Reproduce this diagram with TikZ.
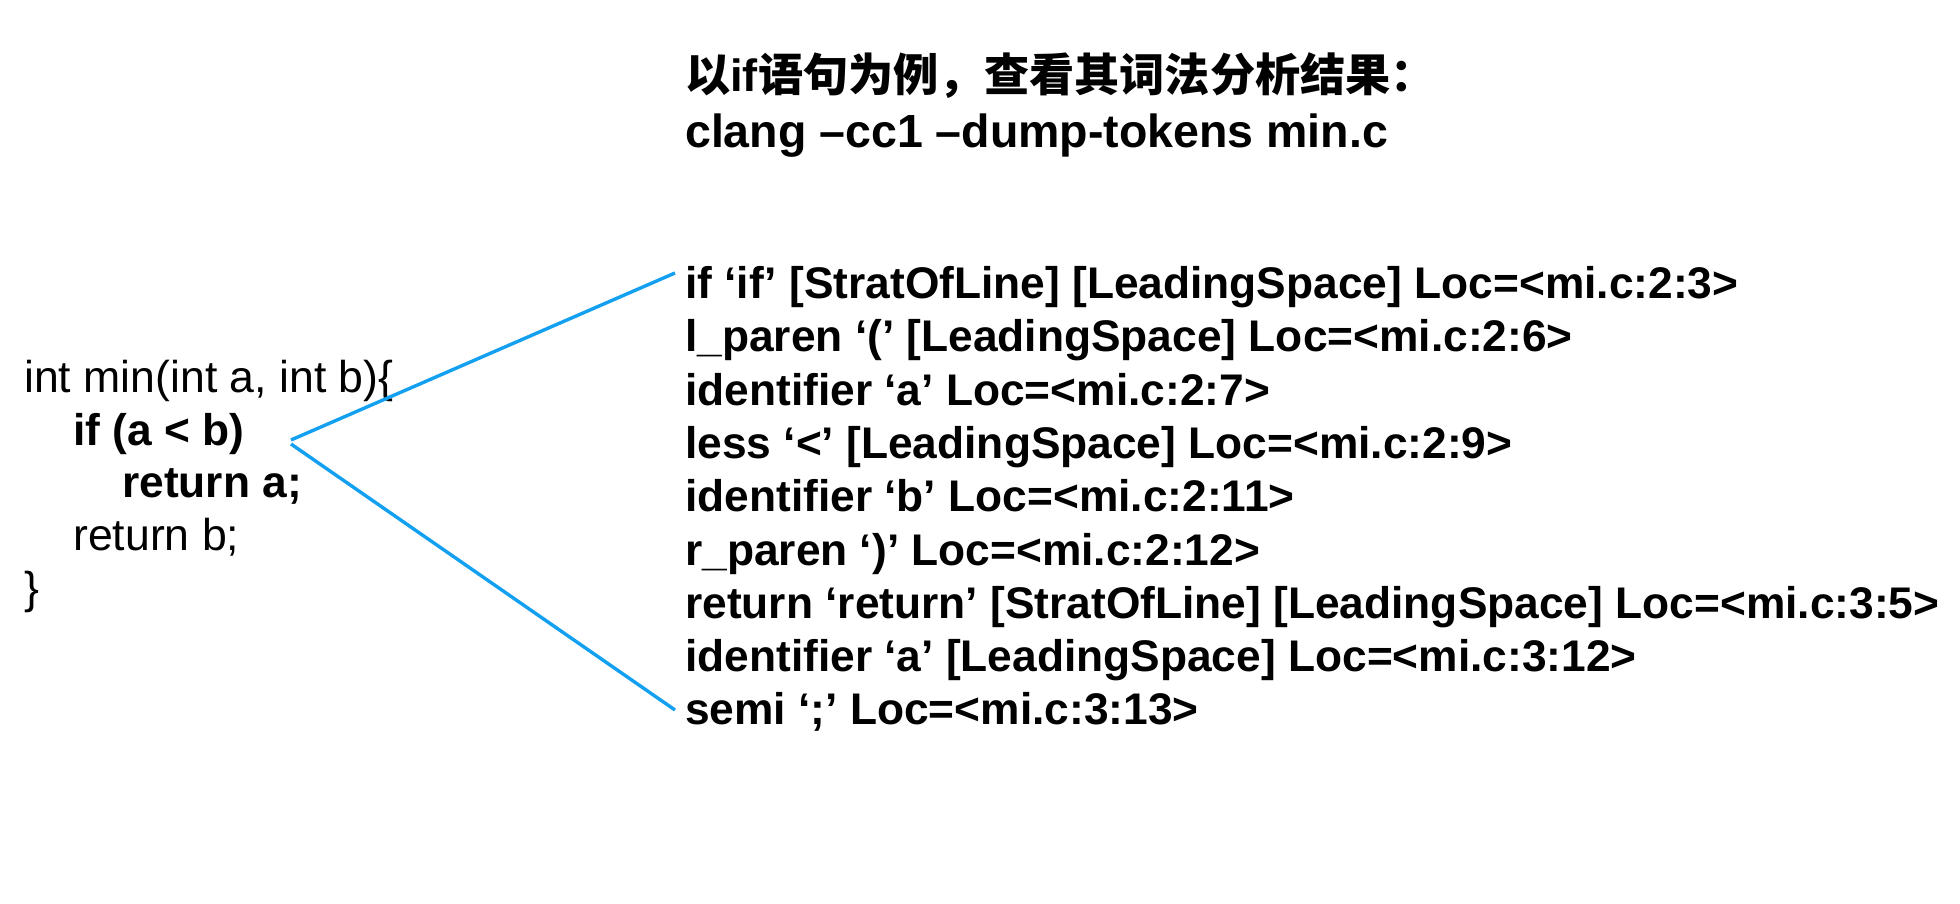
\documentclass[tikz,border=0pt]{standalone}
\usepackage{fontspec}
\setmainfont{Liberation Sans}
\newfontfamily\cjk{Noto Sans CJK SC}
\definecolor{linkblue}{RGB}{20,160,240}
\begin{document}
\begin{tikzpicture}[x=1pt,y=-1pt,
  txt/.style={anchor=base west, inner sep=0pt, font=\fontsize{44.6}{53}\selectfont},
  tok/.style={anchor=base west, inner sep=0pt, font=\fontsize{44.3}{53}\selectfont\bfseries},
  head/.style={anchor=base west, inner sep=0pt, font=\fontsize{46.5}{56}\selectfont\bfseries},
  link/.style={draw=linkblue, line width=3.4pt}]
\useasboundingbox (0,0) rectangle (1960,904);
% heading
\node[head, font=\fontsize{45.2}{56}\selectfont\bfseries] (h1) at (685,92) {{\cjk 以}if{\cjk 语句为例，查看其词法分析结果：}};
\node[head] (h2) at (685,148) {clang –cc1 –dump-tokens min.c};
% code
\node[txt] (c1) at (24,392) {int min(int a, int b)\{};
\node[tok] (c2) at (73,445) {if (a < b)};
\node[tok] (c3) at (122,497) {return a;};
\node[txt] (c4) at (73,550) {return b;};
\node[txt] (c5) at (24,603) {\}};
% tokens
\node[tok] (t1) at (685,298.5) {if ‘if’ [StratOfLine] [LeadingSpace] Loc=<mi.c:2:3>};
\node[tok] (t2) at (685,351.8) {l\_paren ‘(’ [LeadingSpace] Loc=<mi.c:2:6>};
\node[tok] (t3) at (685,405.1) {identifier ‘a’ Loc=<mi.c:2:7>};
\node[tok] (t4) at (685,458.4) {less ‘<’ [LeadingSpace] Loc=<mi.c:2:9>};
\node[tok] (t5) at (685,511.7) {identifier ‘b’ Loc=<mi.c:2:11>};
\node[tok] (t6) at (685,565.0) {r\_paren ‘)’ Loc=<mi.c:2:12>};
\node[tok] (t7) at (685,618.3) {return ‘return’ [StratOfLine] [LeadingSpace] Loc=<mi.c:3:5>};
\node[tok] (t8) at (685,671.6) {identifier ‘a’ [LeadingSpace] Loc=<mi.c:3:12>};
\node[tok] (t9) at (685,724.9) {semi ‘;’ Loc=<mi.c:3:13>};
% connectors
\coordinate (s1) at (291,440);
\coordinate (s2) at (291,444);
\coordinate (e1) at (675,273);
\coordinate (e2) at (675,710);
\draw[link] (s1) -- (e1);
\draw[link] (s2) -- (e2);
\end{tikzpicture}
\end{document}
